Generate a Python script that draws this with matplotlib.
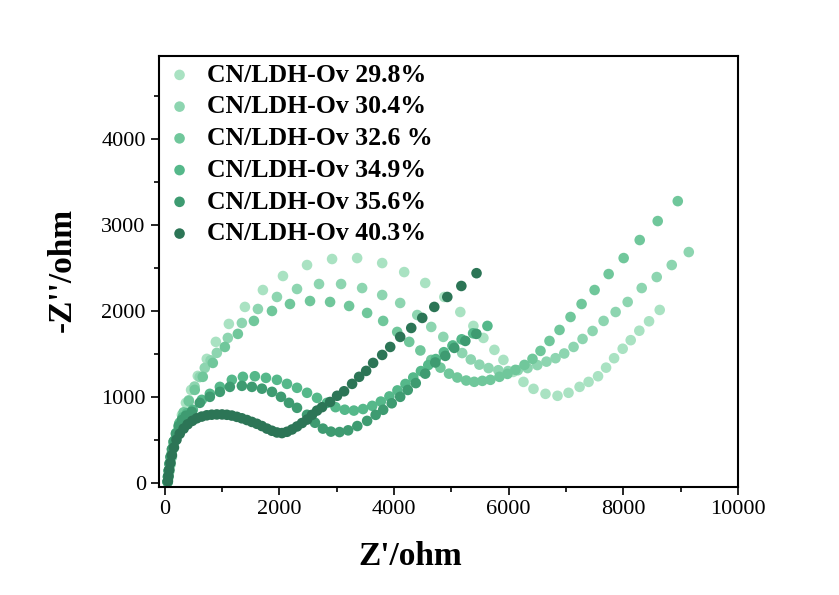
import numpy as np
import matplotlib
matplotlib.use('Agg')
import matplotlib.pyplot as plt
from matplotlib.ticker import MultipleLocator

# Nyquist data (Z' , -Z'') in ohm

labels = ['CN/LDH-Ov 29.8%', 'CN/LDH-Ov 30.4%', 'CN/LDH-Ov 32.6 %',
          'CN/LDH-Ov 34.9%', 'CN/LDH-Ov 35.6%', 'CN/LDH-Ov 40.3%']
colours = ['#a9e2c2', '#8dd5b0', '#70c79b', '#55b88a', '#3e9b71', '#2c7556']

x298 = [50, 60, 75, 95, 120, 150, 190, 240, 300, 370, 460, 577, 734, 892, 1119, 1399,
        1713, 2063, 2483, 2920, 3357, 3794, 4178, 4545, 4878, 5157, 5385, 5560, 5752,
        5909, 6080, 6259, 6434, 6643, 6853, 7045, 7238, 7395, 7560, 7700, 7840, 7990,
        8130, 8280, 8450, 8636]
y298 = [10, 60, 130, 210, 300, 400, 520, 650, 790, 930, 1080, 1244, 1442, 1640, 1849, 2047,
        2244, 2407, 2535, 2605, 2616, 2558, 2453, 2326, 2163, 1988, 1826, 1686, 1547,
        1430, 1290, 1174, 1093, 1035, 1012, 1047, 1116, 1174, 1240, 1340, 1450, 1560,
        1660, 1770, 1880, 2012]

x304 = [55, 65, 80, 100, 125, 160, 205, 265, 335, 420, 520, 610, 699, 800, 909, 1101,
        1346, 1626, 1958, 2308, 2692, 3077, 3444, 3794, 4108, 4406, 4650, 4860, 5030,
        5190, 5340, 5490, 5650, 5820, 5990, 6160, 6330, 6500, 6660, 6818, 6970, 7133,
        7290, 7465, 7657, 7867, 8077, 8322, 8584, 8846, 9143]
y304 = [10, 60, 130, 210, 300, 410, 530, 670, 810, 960, 1120, 1230, 1337, 1425, 1512, 1686,
        1860, 2023, 2163, 2256, 2314, 2314, 2267, 2186, 2093, 1953, 1814, 1698, 1600,
        1510, 1435, 1375, 1335, 1310, 1300, 1310, 1335, 1370, 1410, 1450, 1505, 1581,
        1674, 1767, 1884, 1988, 2105, 2267, 2395, 2535, 2686]

x326 = [50, 60, 75, 95, 120, 155, 200, 260, 330, 420, 524, 664, 839, 1049, 1276, 1556,
        1871, 2185, 2535, 2885, 3217, 3531, 3811, 4056, 4266, 4460, 4650, 4810, 4960,
        5105, 5260, 5400, 5542, 5682, 5839, 5979, 6119, 6276, 6416, 6556, 6713, 6888,
        7080, 7273, 7500, 7745, 8007, 8287, 8601, 8951]
y326 = [10, 70, 150, 240, 340, 450, 570, 700, 820, 950, 1081, 1233, 1395, 1581, 1733, 1884,
        2000, 2081, 2116, 2105, 2058, 1977, 1884, 1756, 1640, 1540, 1430, 1340, 1270,
        1225, 1190, 1175, 1186, 1198, 1233, 1267, 1314, 1372, 1442, 1535, 1651, 1779,
        1930, 2081, 2244, 2430, 2616, 2826, 3047, 3279]

x349 = [50, 58, 70, 85, 105, 130, 160, 200, 250, 310, 390, 490, 647, 787, 962, 1171,
        1364, 1573, 1766, 1958, 2133, 2308, 2483, 2657, 2830, 2980, 3140, 3300, 3460,
        3620, 3770, 3920, 4060, 4200, 4336, 4470, 4598, 4730, 4870, 5020, 5180, 5380,
        5630]
y349 = [10, 70, 140, 220, 300, 390, 480, 580, 680, 760, 810, 849, 965, 1035, 1116, 1198,
        1233, 1240, 1221, 1198, 1151, 1105, 1047, 988, 930, 880, 850, 840, 858,
        895, 945, 1005, 1075, 1150, 1225, 1300, 1370, 1440, 1520, 1595, 1670, 1740,
        1826]

x356 = [50, 57, 68, 82, 100, 125, 155, 195, 245, 300, 370, 472, 612, 787, 962, 1136,
        1346, 1521, 1696, 1871, 2028, 2168, 2308, 2483, 2622, 2760, 2900, 3050, 3200,
        3360, 3531, 3680, 3811, 3960, 4108, 4240, 4380, 4545, 4720, 4895, 5052, 5245,
        5437]
y356 = [10, 70, 140, 220, 300, 390, 480, 570, 660, 730, 780, 826, 930, 1000, 1058, 1116,
        1128, 1116, 1095, 1058, 1000, 930, 872, 791, 698, 630, 595, 590, 610,
        660, 720, 790, 849, 925, 1000, 1080, 1160, 1270, 1400, 1477, 1570, 1651,
        1733]

x403 = [55, 65, 80, 100, 125, 160, 205, 262, 330, 400, 480, 559, 645, 734, 820, 909,
        1000, 1084, 1170, 1259, 1345, 1434, 1520, 1608, 1695, 1783, 1870, 1958, 2045,
        2133, 2220, 2308, 2395, 2483, 2570, 2657, 2745, 2885, 3007, 3129, 3269, 3392,
        3514, 3636, 3794, 3934, 4108, 4301, 4493, 4703, 4930, 5175, 5440]
y403 = [20, 80, 150, 230, 320, 410, 500, 570, 630, 680, 720, 750, 770, 785, 792, 795,
        795, 791, 782, 767, 750, 730, 708, 686, 660, 630, 605, 585, 578,
        593, 620, 655, 695, 735, 790, 840, 880, 940, 1012, 1065, 1151, 1233,
        1302, 1395, 1488, 1581, 1698, 1802, 1919, 2047, 2163, 2291, 2440]

series = [(x298, y298), (x304, y304), (x326, y326),
          (x349, y349), (x356, y356), (x403, y403)]

plt.rcParams['font.family'] = ['Liberation Serif', 'DejaVu Serif']

f = plt.figure(figsize=(8.39, 5.95), dpi=100)
ax = f.add_axes([0.1895, 0.1815, 0.690, 0.7245])

for (xs, ys), lab, col in zip(series, labels, colours):
    ax.scatter(xs, ys, s=58, color=col, edgecolors='none', label=lab, zorder=2)

ax.set_xlim(-100, 10000)
ax.set_ylim(-50, 4970)
ax.xaxis.set_major_locator(MultipleLocator(2000))
ax.xaxis.set_minor_locator(MultipleLocator(1000))
ax.yaxis.set_major_locator(MultipleLocator(1000))
ax.yaxis.set_minor_locator(MultipleLocator(500))
ax.tick_params(which='both', direction='out', top=False, right=False, labelsize=16, width=1.2)
ax.tick_params(which='major', length=6)
ax.tick_params(which='minor', length=3.5)
for sp in ax.spines.values():
    sp.set_linewidth(1.5)

ax.set_xlabel("Z'/ohm", fontsize=24, fontweight='bold')
ax.set_ylabel("-Z''/ohm", fontsize=24, fontweight='bold')
ax.xaxis.set_label_coords(0.434, -0.125)
ax.yaxis.set_label_coords(-0.14, 0.503)

ax.legend(loc='upper left', frameon=False, prop={'weight': 'bold', 'size': 18.5},
          handletextpad=0.55, labelspacing=0.34, borderaxespad=0.1, borderpad=0.2,
          handlelength=1.0, scatterpoints=1)

f.savefig('out.png', dpi=100)
